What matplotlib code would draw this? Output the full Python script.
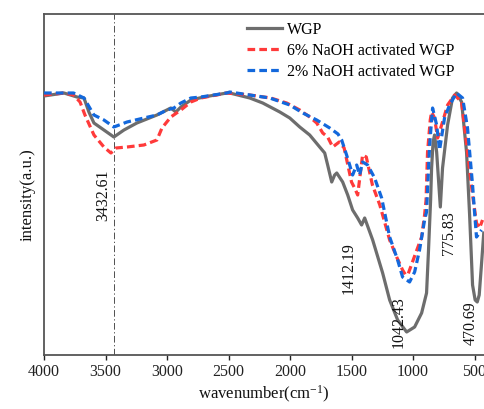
import matplotlib
matplotlib.use("Agg")
import matplotlib.pyplot as plt
import numpy as np

plt.rcParams['font.family'] = ['Liberation Serif', 'DejaVu Serif']
plt.rcParams['mathtext.fontset'] = 'custom'
plt.rcParams['mathtext.rm'] = 'Liberation Serif'
plt.rcParams['mathtext.it'] = 'Liberation Serif:italic'

# ---- data (wavenumber, relative intensity) ----
wgp_wn = [4000, 3838, 3732, 3675, 3635, 3594, 3513, 3432, 3350, 3245, 3082, 2969, 2928, 2887,
          2806, 2701, 2514, 2490, 2327, 2222, 2083, 2002, 1921, 1840, 1759, 1718, 1694, 1661,
          1637, 1620, 1572, 1531, 1491, 1450, 1418, 1393, 1328, 1247, 1190, 1125, 1052, 987,
          930, 890, 874, 857, 849, 837, 825, 808, 778, 760, 719, 679, 646, 605, 565, 540, 516,
          495, 478, 462, 445, 425]
wgp_y = [259, 262, 258, 257, 243, 232, 225, 218, 225, 232, 240, 247, 243, 248,
         255, 258, 262, 262, 257, 252, 243, 237, 228, 220, 208, 202, 190, 173,
         180, 182, 173, 160, 145, 137, 130, 137, 115, 82, 55, 35, 23, 28,
         42, 62, 105, 155, 187, 213, 220, 203, 148, 187, 230, 257, 262, 253, 203, 140, 70,
         55, 53, 60, 88, 122]

naoh6_wn = [4000, 3838, 3760, 3707, 3667, 3594, 3513, 3456, 3415, 3325, 3188, 3082, 3041, 2969,
            2887, 2806, 2725, 2514, 2327, 2157, 2027, 1921, 1840, 1783, 1734, 1694, 1653, 1600,
            1560, 1530, 1500, 1475, 1450, 1430, 1410, 1380, 1330, 1270, 1190, 1133, 1085, 1060,
            1040, 978, 930, 906, 894, 882, 860, 849, 825, 800, 760, 719, 662, 605, 557, 516,
            484, 459, 435]
naoh6_y = [260, 262, 260, 253, 240, 220, 208, 202, 207, 208, 210, 215, 227, 238,
           245, 253, 257, 262, 260, 257, 252, 245, 238, 232, 222, 218, 208, 213,
           207, 190, 173, 167, 160, 180, 200, 198, 170, 150, 115, 98, 85, 80,
           81, 102, 118, 140, 155, 203, 235, 243, 237, 217, 233, 250, 260, 253, 203, 160,
           132, 127, 135]

naoh2_wn = [4000, 3760, 3675, 3618, 3594, 3513, 3432, 3325, 3188, 3082, 3000, 2944, 2887, 2806,
            2725, 2514, 2490, 2327, 2165, 2002, 1896, 1783, 1677, 1610, 1580, 1540, 1515, 1491,
            1458, 1434, 1410, 1369, 1312, 1255, 1190, 1125, 1085, 1028, 987, 947, 906, 890,
            865, 841, 808, 784, 744, 703, 646, 597, 557, 516, 500, 484, 443]
naoh2_y = [262, 262, 257, 245, 240, 235, 228, 233, 237, 240, 245, 247, 252, 257,
           258, 262, 263, 260, 257, 250, 242, 235, 227, 221, 215, 200, 190, 180,
           190, 180, 193, 190, 177, 157, 118, 95, 78, 73, 83, 105, 135, 143,
           210, 247, 230, 205, 237, 250, 262, 257, 227, 170, 143, 118, 125]

labels = ['WGP', '6% NaOH activated WGP', '2% NaOH activated WGP']
peak_labels = ['3432.61', '1412.19', '1042.43', '775.83', '470.69']
marker_wn = 3432.61

# ---- layout ----
fig = plt.figure(figsize=(4.84, 4.09), dpi=100)
ax = fig.add_axes([44/484, 1-355/409, 1-44/484, 341/409])

ax.plot(wgp_wn, wgp_y, color='#6d6d6d', lw=2.3, label=labels[0], zorder=3)
ax.plot(naoh6_wn, naoh6_y, color='#ff3a3a', lw=2.3, linestyle=(0, (2.4, 1.3)), label=labels[1], zorder=4)
ax.plot(naoh2_wn, naoh2_y, color='#1368dc', lw=2.3, linestyle=(0, (2.4, 1.3)), label=labels[2], zorder=5)

ax.axvline(marker_wn, color='#333333', lw=0.6, linestyle=(0, (8, 3, 1.5, 3)), zorder=2)

ax.set_xlim(4000, 423)
ax.set_ylim(0, 341)
ax.set_xticks([4000, 3500, 3000, 2500, 2000, 1500, 1000, 500])
ax.set_yticks([])
ax.tick_params(axis='x', direction='out', length=3.5, width=1, labelsize=11.5, pad=3, colors='#222222')
for lab in ax.get_xticklabels():
    lab.set_color('#222222')

for s in ['left', 'bottom', 'top']:
    ax.spines[s].set_color('#555555')
    ax.spines[s].set_linewidth(1.3)
ax.spines['right'].set_visible(False)

ax.set_xlabel('wavenumber(cm$^{-1}$)', fontsize=12, labelpad=3, color='#111111')
ax.set_ylabel('intensity(a.u.)', fontsize=12, color='#111111')
ax.yaxis.set_label_coords(-0.02, 0.47)

# peak annotations (positions in data coords)
ann_pos = [(3521, 160), (1523, 87), (1117, 33), (711, 122), (532, 32)]
for txt, (x, y) in zip(peak_labels, ann_pos):
    ax.text(x, y, txt, rotation=90, ha='center', va='center', fontsize=11.5, color='#111111', zorder=6)

leg = ax.legend(loc='upper left', bbox_to_anchor=(247/484, 1-22/409), bbox_transform=fig.transFigure,
                frameon=False, fontsize=11.5, handlelength=2.2, handletextpad=0.3,
                labelspacing=0.3, borderpad=0, borderaxespad=0)

fig.savefig('out.png', dpi=100)
